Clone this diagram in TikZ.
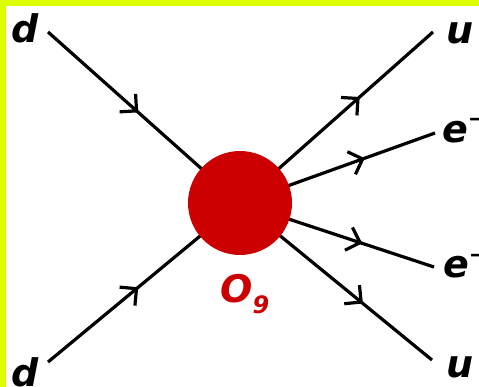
\documentclass[tikz,border=0pt]{standalone}
\usepackage{fontspec}
\setmainfont{DejaVu Sans}
\usetikzlibrary{arrows.meta,decorations.markings}
\definecolor{limeborder}{RGB}{221,255,0}
\definecolor{opred}{RGB}{204,0,0}
\tikzset{
  lbl/.style={inner sep=0pt, anchor=base west, font=\fontsize{38}{38}\selectfont\bfseries\itshape},
  fermion/.style={line width=3.2pt, postaction={decorate},
    decoration={markings, mark=at position #1 with {\arrow{Straight Barb[length=12pt,width=24pt]}}}},
  blob/.style={circle, fill=opred, minimum size=104pt, inner sep=0pt},
}
\begin{document}
\begin{tikzpicture}[x=1pt,y=-1pt]
\useasboundingbox (0,0) rectangle (479,387);
\clip (0,0) rectangle (479,387);
\fill[limeborder] (0,0) rectangle (479,387);
\fill[white] (6,6) rectangle (479,387);
\coordinate (c) at (240,203);
\coordinate (dT) at (48,32);
\coordinate (dB) at (48,362);
\coordinate (uT) at (433,32);
\coordinate (eT) at (435,133);
\coordinate (eB) at (434,267);
\coordinate (uB) at (432,360);
\draw[fermion=0.47] (dT) -- (c);
\draw[fermion=0.47] (dB) -- (c);
\draw[fermion=0.62] (c) -- (uT);
\draw[fermion=0.64] (c) -- (eT);
\draw[fermion=0.63] (c) -- (eB);
\draw[fermion=0.64] (c) -- (uB);
\node[blob] (o) at (c) {};
\node[lbl] (ldT) at (11,43) {d};
\node[lbl] (ldB) at (11,386) {d};
\node[lbl] (luT) at (446,44) {u};
\node[lbl] (luB) at (446,377) {u};
\node[lbl] (leT) at (442,143) {e\raisebox{16pt}{\fontsize{22}{22}\selectfont −}};
\node[lbl] (leB) at (443,278) {e\raisebox{16pt}{\fontsize{22}{22}\selectfont −}};
\node[lbl, text=opred] (lO) at (220,302) {O\raisebox{-11pt}{\fontsize{24}{24}\selectfont 9}};
\end{tikzpicture}
\end{document}
